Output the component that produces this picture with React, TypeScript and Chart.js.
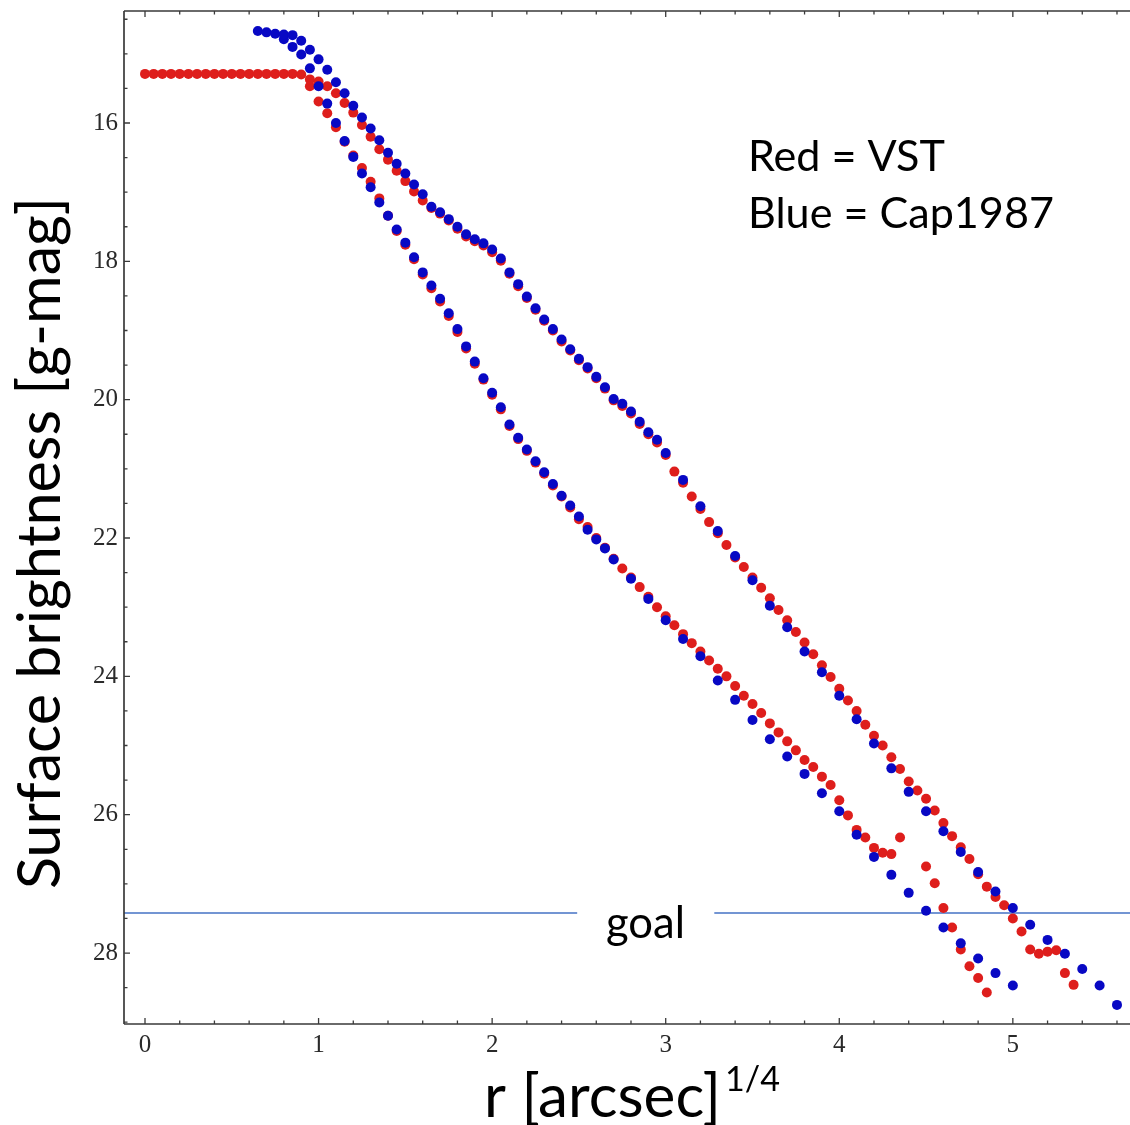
import React, { useEffect, useRef } from 'react';
import { Chart, registerables } from 'chart.js';

Chart.register(...registerables);

// ---- data (r^(1/4) in arcsec^(1/4), surface brightness in g-mag) ----
const RED_UPPER_R = [0, 0.05, 0.1, 0.15, 0.2, 0.25, 0.3, 0.35, 0.4, 0.45, 0.5, 0.55, 0.6, 0.65, 0.7, 0.75, 0.8, 0.85, 0.9,
  0.95, 1.0, 1.05, 1.1, 1.15, 1.2, 1.25, 1.3, 1.35, 1.4, 1.45, 1.5, 1.55, 1.6, 1.65, 1.7, 1.75, 1.8, 1.85, 1.9, 1.95,
  2.0, 2.05, 2.1, 2.15, 2.2, 2.25, 2.3, 2.35, 2.4, 2.45, 2.5, 2.55, 2.6, 2.65, 2.7, 2.75, 2.8, 2.85, 2.9, 2.95,
  3.0, 3.05, 3.1, 3.15, 3.2, 3.25, 3.3, 3.35, 3.4, 3.45, 3.5, 3.55, 3.6, 3.65, 3.7, 3.75, 3.8, 3.85, 3.9, 3.95,
  4.0, 4.05, 4.1, 4.15, 4.2, 4.25, 4.3, 4.35, 4.4, 4.45, 4.5, 4.55, 4.6, 4.65, 4.7, 4.75, 4.8, 4.85, 4.9, 4.95,
  5.0, 5.05, 5.1, 5.15, 5.2, 5.25, 5.3, 5.35];
const RED_UPPER_MAG = [15.29, 15.29, 15.29, 15.29, 15.29, 15.29, 15.29, 15.29, 15.29, 15.29, 15.29, 15.29, 15.29, 15.29, 15.29, 15.29, 15.29, 15.29, 15.30,
  15.37, 15.40, 15.47, 15.57, 15.71, 15.85, 16.03, 16.20, 16.38, 16.53, 16.69, 16.84, 16.99, 17.12, 17.23, 17.31, 17.41, 17.53, 17.64, 17.71, 17.77,
  17.87, 17.99, 18.18, 18.36, 18.53, 18.70, 18.86, 19.00, 19.16, 19.29, 19.43, 19.55, 19.69, 19.84, 20.01, 20.09, 20.20, 20.35, 20.50, 20.62,
  20.80, 21.04, 21.20, 21.40, 21.58, 21.77, 21.93, 22.10, 22.28, 22.42, 22.57, 22.72, 22.87, 23.04, 23.19, 23.36, 23.51, 23.68, 23.84, 24.01,
  24.18, 24.35, 24.50, 24.70, 24.86, 25.00, 25.17, 25.34, 25.52, 25.65, 25.77, 25.94, 26.12, 26.31, 26.47, 26.64, 26.86, 27.04, 27.19, 27.31,
  27.50, 27.69, 27.95, 28.01, 27.98, 27.96, 28.29, 28.46];

const RED_LOWER_R = [0.95, 1.0, 1.05, 1.1, 1.15, 1.2, 1.25, 1.3, 1.35, 1.4, 1.45, 1.5, 1.55, 1.6, 1.65, 1.7, 1.75, 1.8, 1.85, 1.9, 1.95,
  2.0, 2.05, 2.1, 2.15, 2.2, 2.25, 2.3, 2.35, 2.4, 2.45, 2.5, 2.55, 2.6, 2.65, 2.7, 2.75, 2.8, 2.85, 2.9, 2.95,
  3.0, 3.05, 3.1, 3.15, 3.2, 3.25, 3.3, 3.35, 3.4, 3.45, 3.5, 3.55, 3.6, 3.65, 3.7, 3.75, 3.8, 3.85, 3.9, 3.95,
  4.0, 4.05, 4.1, 4.15, 4.2, 4.25, 4.3, 4.35, 4.5, 4.55, 4.6, 4.65, 4.7, 4.75, 4.8, 4.85];
const RED_LOWER_MAG = [15.47, 15.69, 15.86, 16.06, 16.27, 16.47, 16.65, 16.85, 17.09, 17.34, 17.56, 17.76, 17.97, 18.19, 18.39, 18.58, 18.79, 19.02, 19.26, 19.48, 19.71,
  19.93, 20.14, 20.38, 20.57, 20.74, 20.91, 21.07, 21.24, 21.40, 21.56, 21.73, 21.84, 22.00, 22.14, 22.30, 22.44, 22.57, 22.71, 22.85, 23.00,
  23.13, 23.26, 23.39, 23.52, 23.64, 23.77, 23.89, 24.00, 24.14, 24.28, 24.40, 24.53, 24.68, 24.81, 24.94, 25.07, 25.21, 25.31, 25.45, 25.57,
  25.79, 26.01, 26.22, 26.33, 26.48, 26.55, 26.57, 26.33, 26.75, 26.99, 27.35, 27.63, 27.95, 28.19, 28.36, 28.57];

const BLUE_UPPER_R = [0.65, 0.7, 0.75, 0.8, 0.85, 0.9, 0.95, 1.0, 1.05, 1.1, 1.15, 1.2, 1.25, 1.3, 1.35, 1.4, 1.45, 1.5, 1.55, 1.6,
  1.65, 1.7, 1.75, 1.8, 1.85, 1.9, 1.95, 2.0, 2.05, 2.1, 2.15, 2.2, 2.25, 2.3, 2.35, 2.4, 2.45, 2.5, 2.55, 2.6,
  2.65, 2.7, 2.75, 2.8, 2.85, 2.9, 2.95, 3.0, 3.1, 3.2, 3.3, 3.4, 3.5, 3.6, 3.7, 3.8, 3.9, 4.0,
  4.1, 4.2, 4.3, 4.4, 4.5, 4.6, 4.7, 4.8, 4.9, 5.0, 5.1, 5.2, 5.3, 5.4, 5.5, 5.6];
const BLUE_UPPER_MAG = [14.67, 14.69, 14.71, 14.72, 14.73, 14.81, 14.94, 15.08, 15.23, 15.41, 15.57, 15.75, 15.92, 16.08, 16.25, 16.43, 16.59, 16.73, 16.89, 17.03,
  17.21, 17.29, 17.39, 17.50, 17.61, 17.68, 17.74, 17.83, 17.96, 18.16, 18.33, 18.51, 18.68, 18.84, 18.98, 19.13, 19.27, 19.41, 19.53, 19.67,
  19.82, 19.99, 20.06, 20.17, 20.32, 20.47, 20.58, 20.77, 21.16, 21.54, 21.90, 22.26, 22.61, 22.98, 23.29, 23.64, 23.94, 24.28,
  24.62, 24.97, 25.33, 25.67, 25.95, 26.24, 26.54, 26.83, 27.11, 27.35, 27.59, 27.81, 28.01, 28.23, 28.47, 28.75];

const BLUE_LOWER_R = [0.8, 0.85, 0.9, 0.95, 1.0, 1.05, 1.1, 1.15, 1.2, 1.25, 1.3, 1.35, 1.4, 1.45, 1.5, 1.55, 1.6, 1.65, 1.7, 1.75,
  1.8, 1.85, 1.9, 1.95, 2.0, 2.05, 2.1, 2.15, 2.2, 2.25, 2.3, 2.35, 2.4, 2.45, 2.5, 2.55, 2.6, 2.65, 2.7,
  2.8, 2.9, 3.0, 3.1, 3.2, 3.3, 3.4, 3.5, 3.6, 3.7, 3.8, 3.9, 4.0, 4.1, 4.2, 4.3, 4.4, 4.5, 4.6, 4.7, 4.8, 4.9, 5.0];
const BLUE_LOWER_MAG = [14.79, 14.90, 15.01, 15.21, 15.47, 15.72, 16.00, 16.26, 16.49, 16.73, 16.93, 17.15, 17.34, 17.54, 17.73, 17.94, 18.16, 18.35, 18.54, 18.75,
  18.98, 19.23, 19.45, 19.69, 19.90, 20.11, 20.36, 20.55, 20.72, 20.89, 21.05, 21.22, 21.39, 21.53, 21.69, 21.88, 22.02, 22.15, 22.31,
  22.59, 22.88, 23.19, 23.46, 23.71, 24.06, 24.34, 24.63, 24.91, 25.16, 25.41, 25.69, 25.95, 26.29, 26.61, 26.87, 27.13, 27.39, 27.63, 27.86, 28.08, 28.29, 28.47];

const GOAL_MAG = 27.42;
const GOAL_LINE_LEFT = [-0.2, 2.49];
const GOAL_LINE_RIGHT = [3.28, 6.0];

const X_TICK_LABELS = [0, 1, 2, 3, 4, 5];
const Y_TICK_LABELS = [16, 18, 20, 22, 24, 26, 28];

const X_TITLE = 'r [arcsec]';
const X_TITLE_SUP = '1/4';
const Y_TITLE = 'Surface brightness [g-mag]';
const LEGEND_LINES = ['Red = VST', 'Blue = Cap1987'];
const GOAL_LABEL = 'goal';

// ---- styling ----
const RED = 'rgb(222,30,28)';
const BLUE = 'rgb(8,8,196)';
const GOAL_COLOR = 'rgb(68,114,196)';
const SANS = '"Lato", "Open Sans", sans-serif';
const SERIF = '"Liberation Serif", "DejaVu Serif", serif';

const pts = (xs: number[], ys: number[]) => xs.map((x, i) => ({ x, y: ys[i] }));

function fitSize(ctx: CanvasRenderingContext2D, text: string, family: string, width: number) {
  ctx.font = `100px ${family}`;
  return (100 * width) / ctx.measureText(text).width;
}

const framePlugin = {
  id: 'frameAndText',
  afterDraw(chart: any) {
    const { ctx, chartArea: a, scales } = chart;
    const xs = scales.x;
    const ys = scales.y;
    ctx.save();
    // frame
    ctx.strokeStyle = '#3a3a3a';
    ctx.lineWidth = 1.7;
    ctx.beginPath();
    ctx.moveTo(a.left, a.top);
    ctx.lineTo(a.right, a.top);
    ctx.moveTo(a.left, a.top);
    ctx.lineTo(a.left, a.bottom);
    ctx.moveTo(a.left, a.bottom);
    ctx.lineTo(a.right, a.bottom);
    ctx.stroke();
    // inward ticks
    ctx.lineWidth = 1.3;
    ctx.beginPath();
    for (let k = 0; k <= 40; k++) {
      const v = k * 0.2;
      const px = xs.getPixelForValue(v);
      if (px > a.right - 1) break;
      const len = k % 5 === 0 ? 6 : 3.5;
      ctx.moveTo(px, a.bottom);
      ctx.lineTo(px, a.bottom - len);
      ctx.moveTo(px, a.top);
      ctx.lineTo(px, a.top + len);
    }
    for (let k = 28; k <= 60; k++) {
      const v = k * 0.5;
      const py = ys.getPixelForValue(v);
      if (py < a.top + 1 || py > a.bottom - 1) continue;
      const len = k % 4 === 0 ? 6 : 3.5;
      ctx.moveTo(a.left, py);
      ctx.lineTo(a.left + len, py);
    }
    ctx.stroke();

    ctx.fillStyle = '#000';
    ctx.textAlign = 'left';
    ctx.textBaseline = 'alphabetic';

    // legend text
    const legSize = fitSize(ctx, LEGEND_LINES[1], SANS, 306);
    ctx.font = `${legSize}px ${SANS}`;
    ctx.fillText(LEGEND_LINES[0], 748, 171);
    ctx.fillText(LEGEND_LINES[1], 748, 228);

    // goal label
    const goalSize = fitSize(ctx, GOAL_LABEL, SANS, 79);
    ctx.font = `${goalSize}px ${SANS}`;
    ctx.fillText(GOAL_LABEL, 606, 938);

    // x title with superscript
    const xtSize = fitSize(ctx, X_TITLE, SANS, 237);
    ctx.font = `${xtSize}px ${SANS}`;
    ctx.fillText(X_TITLE, 484, 1117);
    const supSize = fitSize(ctx, X_TITLE_SUP, SANS, 55);
    ctx.font = `${supSize}px ${SANS}`;
    ctx.fillText(X_TITLE_SUP, 725, 1091);

    // y title rotated
    const ytSize = fitSize(ctx, Y_TITLE, SANS, 692);
    ctx.font = `${ytSize}px ${SANS}`;
    ctx.translate(60, 543);
    ctx.rotate(-Math.PI / 2);
    ctx.textAlign = 'center';
    ctx.fillText(Y_TITLE, 0, 0);
    ctx.restore();
  },
};

export default function App() {
  const canvasRef = useRef<HTMLCanvasElement | null>(null);

  useEffect(() => {
    const canvas = canvasRef.current;
    if (!canvas) return;
    const chart = new Chart(canvas, {
      type: 'scatter',
      data: {
        datasets: [
          {
            label: 'Cap1987 outer',
            data: pts(BLUE_UPPER_R, BLUE_UPPER_MAG),
            backgroundColor: BLUE,
            borderWidth: 0,
            pointRadius: 5,
            order: 1,
          },
          {
            label: 'Cap1987 inner',
            data: pts(BLUE_LOWER_R, BLUE_LOWER_MAG),
            backgroundColor: BLUE,
            borderWidth: 0,
            pointRadius: 5,
            order: 1,
          },
          {
            label: 'VST outer',
            data: pts(RED_UPPER_R, RED_UPPER_MAG),
            backgroundColor: RED,
            borderWidth: 0,
            pointRadius: 5,
            order: 2,
          },
          {
            label: 'VST inner',
            data: pts(RED_LOWER_R, RED_LOWER_MAG),
            backgroundColor: RED,
            borderWidth: 0,
            pointRadius: 5,
            order: 2,
          },
          {
            label: 'goal left',
            data: GOAL_LINE_LEFT.map((x) => ({ x, y: GOAL_MAG })),
            showLine: true,
            borderColor: GOAL_COLOR,
            borderWidth: 1.5,
            pointRadius: 0,
            order: 5,
          },
          {
            label: 'goal right',
            data: GOAL_LINE_RIGHT.map((x) => ({ x, y: GOAL_MAG })),
            showLine: true,
            borderColor: GOAL_COLOR,
            borderWidth: 1.5,
            pointRadius: 0,
            order: 5,
          },
        ],
      },
      options: {
        responsive: false,
        animation: false,
        devicePixelRatio: 1,
        layout: { autoPadding: false, padding: { top: 11, left: 0, right: 0, bottom: 0 } },
        plugins: {
          legend: { display: false },
          tooltip: { enabled: false },
        },
        scales: {
          x: {
            type: 'linear',
            position: 'bottom',
            min: -0.121,
            max: 5.675,
            grid: { display: false, drawTicks: false },
            border: { display: false },
            afterBuildTicks: (s: any) => {
              s.ticks = X_TICK_LABELS.map((v) => ({ value: v }));
            },
            afterFit: (s: any) => {
              s.height = 101;
              s.paddingLeft = 0;
              s.paddingRight = 0;
            },
            ticks: {
              autoSkip: false,
              maxRotation: 0,
              padding: 6,
              color: '#2a2a2a',
              font: { family: SERIF, size: 25 },
            },
          },
          y: {
            type: 'linear',
            position: 'left',
            reverse: true,
            min: 14.381,
            max: 29.026,
            grid: { display: false, drawTicks: false },
            border: { display: false },
            afterBuildTicks: (s: any) => {
              s.ticks = Y_TICK_LABELS.map((v) => ({ value: v }));
            },
            afterFit: (s: any) => {
              s.width = 124;
              s.paddingTop = 0;
              s.paddingBottom = 0;
            },
            ticks: {
              autoSkip: false,
              padding: 6,
              color: '#2a2a2a',
              font: { family: SERIF, size: 25 },
            },
          },
        },
      },
      plugins: [framePlugin],
    } as any);
    return () => chart.destroy();
  }, []);

  return (
    <div style={{ position: 'absolute', left: 0, top: 0, width: 1130, height: 1125, background: '#fff' }}>
      <canvas ref={canvasRef} width={1130} height={1125} style={{ display: 'block' }} />
    </div>
  );
}
